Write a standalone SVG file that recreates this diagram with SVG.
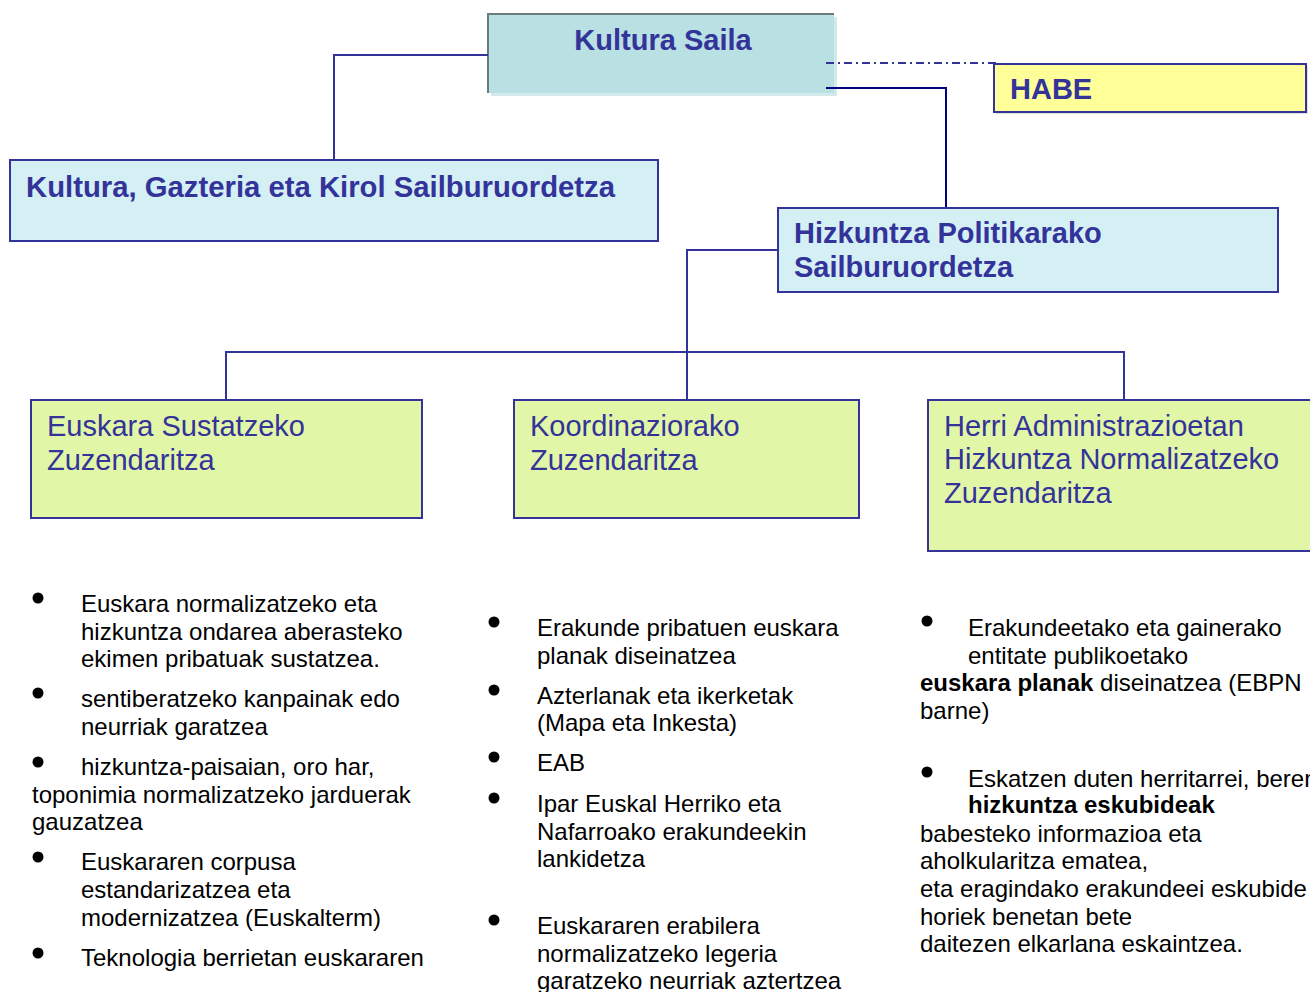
<svg xmlns="http://www.w3.org/2000/svg" width="1310" height="992" viewBox="0 0 1310 992">
<style>
.h{font-family:"Liberation Sans",Arial,sans-serif;font-weight:bold;font-size:29px;fill:#333399}
.g{font-family:"Liberation Sans",Arial,sans-serif;font-size:29px;fill:#333399}
.t{font-family:"Liberation Sans",Arial,sans-serif;font-size:24px;fill:#000}
.b{font-weight:bold}
.cyan{fill:#d4f0f5;stroke:#333399;stroke-width:2}
.green{fill:#e2f6a8;stroke:#333399;stroke-width:2}
.ln{fill:none;stroke:#333399;stroke-width:2}
</style>
<rect width="1310" height="992" fill="#fff"/>
<g id="kultura-saila">
<rect x="491" y="17" width="346" height="79" fill="#d3e9eb"/>
<rect x="488" y="14" width="346" height="79" fill="#b9e0e3"/>
<polyline points="488,93 488,14 834,14" fill="none" stroke="#6b7b7c" stroke-width="2"/>
<text class="h" x="663" y="50" text-anchor="middle">Kultura Saila</text>
</g>
<g id="habe">
<rect x="996" y="66" width="312" height="48" fill="#dcdcdc"/>
<rect x="994" y="64" width="312" height="48" fill="#ffff99" stroke="#333399" stroke-width="2"/>
<text class="h" x="1010" y="99">HABE</text>
</g>
<g id="kultura-gazteria">
<rect class="cyan" x="10" y="160" width="648" height="81"/>
<text class="h" x="26" y="197" textLength="589" lengthAdjust="spacingAndGlyphs">Kultura, Gazteria eta Kirol Sailburuordetza</text>
</g>
<g id="hizkuntza-politika">
<rect class="cyan" x="778" y="208" width="500" height="84"/>
<text class="h" x="794" y="243">Hizkuntza Politikarako</text>
<text class="h" x="794" y="277">Sailburuordetza</text>
</g>
<g id="euskara-sustatzeko">
<rect class="green" x="31" y="400" width="391" height="118"/>
<text class="g" x="47" y="436">Euskara Sustatzeko</text>
<text class="g" x="47" y="470">Zuzendaritza</text>
</g>
<g id="koordinaziorako">
<rect class="green" x="514" y="400" width="345" height="118"/>
<text class="g" x="530" y="436">Koordinaziorako</text>
<text class="g" x="530" y="470">Zuzendaritza</text>
</g>
<g id="herri-administrazioetan">
<rect class="green" x="928" y="400" width="390" height="151"/>
<text class="g" x="944" y="436">Herri Administrazioetan</text>
<text class="g" x="944" y="469">Hizkuntza Normalizatzeko</text>
<text class="g" x="944" y="503">Zuzendaritza</text>
</g>
<g id="connectors">
<polyline class="ln" points="488,55 334,55 334,159"/>
<polyline class="ln" points="826,88 946,88 946,207" style="stroke:#000080"/>
<line class="ln" x1="826" y1="63" x2="1000" y2="63" stroke-dasharray="8,4,2,4"/>
<polyline class="ln" points="777,250 687,250 687,399"/>
<polyline class="ln" points="226,399 226,352 1124,352 1124,399"/>
</g>
<g id="col1">
<circle cx="38" cy="598" r="5.5"/>
<circle cx="38" cy="693" r="5.5"/>
<circle cx="38" cy="762" r="5.5"/>
<circle cx="38" cy="857" r="5.5"/>
<circle cx="38" cy="953" r="5.5"/>
<text class="t" x="81" y="612">Euskara normalizatzeko eta</text>
<text class="t" x="81" y="640">hizkuntza ondarea aberasteko</text>
<text class="t" x="81" y="667">ekimen pribatuak sustatzea.</text>
<text class="t" x="81" y="707">sentiberatzeko kanpainak edo</text>
<text class="t" x="81" y="735">neurriak garatzea</text>
<text class="t" x="81" y="775">hizkuntza-paisaian, oro har,</text>
<text class="t" x="32" y="803">toponimia normalizatzeko jarduerak</text>
<text class="t" x="32" y="830">gauzatzea</text>
<text class="t" x="81" y="870">Euskararen corpusa</text>
<text class="t" x="81" y="898">estandarizatzea eta</text>
<text class="t" x="81" y="926">modernizatzea (Euskalterm)</text>
<text class="t" x="81" y="966">Teknologia berrietan euskararen</text>
</g>
<g id="col2">
<circle cx="494" cy="622" r="5.5"/>
<circle cx="494" cy="690" r="5.5"/>
<circle cx="494" cy="757" r="5.5"/>
<circle cx="494" cy="798" r="5.5"/>
<circle cx="494" cy="920" r="5.5"/>
<text class="t" x="537" y="636">Erakunde pribatuen euskara</text>
<text class="t" x="537" y="664">planak diseinatzea</text>
<text class="t" x="537" y="704">Azterlanak eta ikerketak</text>
<text class="t" x="537" y="731">(Mapa eta Inkesta)</text>
<text class="t" x="537" y="771">EAB</text>
<text class="t" x="537" y="812">Ipar Euskal Herriko eta</text>
<text class="t" x="537" y="840">Nafarroako erakundeekin</text>
<text class="t" x="537" y="867">lankidetza</text>
<text class="t" x="537" y="934">Euskararen erabilera</text>
<text class="t" x="537" y="962">normalizatzeko legeria</text>
<text class="t" x="537" y="989">garatzeko neurriak aztertzea</text>
</g>
<g id="col3">
<circle cx="927" cy="621" r="5.5"/>
<circle cx="927" cy="772" r="5.5"/>
<text class="t" x="968" y="636">Erakundeetako eta gainerako</text>
<text class="t" x="968" y="664">entitate publikoetako</text>
<text class="t" x="920" y="691"><tspan class="b">euskara planak</tspan> diseinatzea (EBPN</text>
<text class="t" x="920" y="719">barne)</text>
<text class="t" x="968" y="787">Eskatzen duten herritarrei, beren</text>
<text class="t b" x="968" y="813">hizkuntza eskubideak</text>
<text class="t" x="920" y="842">babesteko informazioa eta</text>
<text class="t" x="920" y="869">aholkularitza ematea,</text>
<text class="t" x="920" y="897">eta eragindako erakundeei eskubide</text>
<text class="t" x="920" y="925">horiek benetan bete</text>
<text class="t" x="920" y="952">daitezen elkarlana eskaintzea.</text>
</g>
</svg>
